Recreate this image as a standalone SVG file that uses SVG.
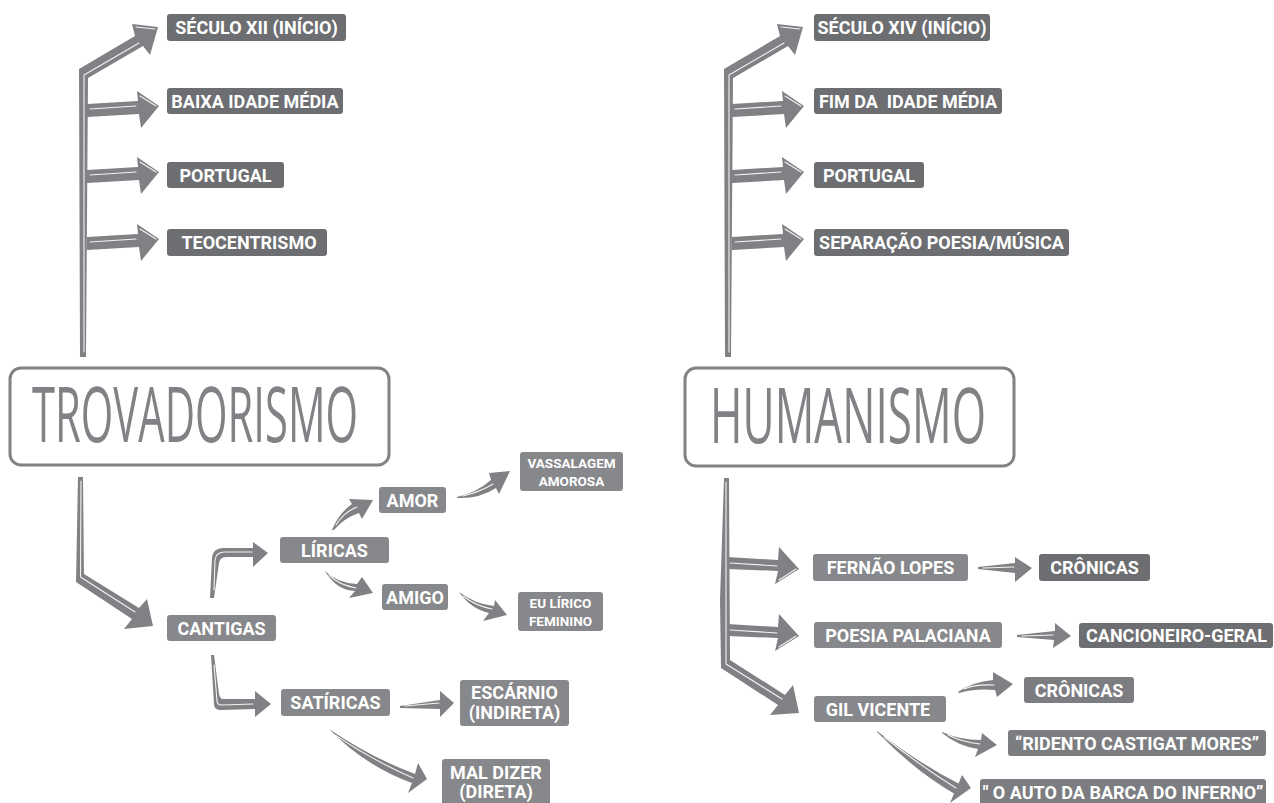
<svg xmlns="http://www.w3.org/2000/svg" xmlns:xlink="http://www.w3.org/1999/xlink" width="1274" height="803" viewBox="0 0 1274 803">
<style>
.dk{fill:#6d6e71}
.md{fill:#7c7d80}
.lt{fill:#87888b}
.t{font-family:Roboto,"Liberation Sans",sans-serif;font-weight:700;font-size:18px;fill:#fff;text-anchor:middle}
.ts{font-size:13.5px}
.arr{fill:#808184}
.hl{fill:none;stroke:#fff;stroke-width:1.1;stroke-linecap:round;stroke-linejoin:round;opacity:.9}
.frame{fill:#fff;stroke:#808285;stroke-width:3}
.title{font-family:"Open Sans","DejaVu Sans",sans-serif;font-weight:400;fill:#808285}
</style>
<defs>
<g id="br">
<path class="arr" d="M0,-7 L51,-10 L50,-20 L72,-5 L54,17 L52,3 L0,6 Z"/>
<path class="hl" d="M3,-2 L49,-5 M53,-15 L69,-5"/>
</g>
<g id="brd">
<path class="arr" d="M0,-6 L51,-3 L52,-16 L72,6 L48,21 L51,8 L0,6 Z"/>
<path class="hl" d="M3,0 L50,3 M52,17 L69,6"/>
</g>
<g id="topArr">
<path class="arr" d="M80,357 L79,69 L135,36 L132,24 L158,27 L150,55 L143,46 L88,78 L86,357 Z"/>
<path class="hl" d="M84,352 L84,75 L139,43 M136,27 L155,29"/>
<use xlink:href="#br" href="#br" transform="translate(87,111)"/>
<use xlink:href="#br" href="#br" transform="translate(87,177)"/>
<use xlink:href="#br" href="#br" transform="translate(87,244)"/>
</g>
</defs>

<g id="connectors">
<use xlink:href="#topArr" href="#topArr"/>
<use xlink:href="#topArr" href="#topArr" transform="translate(645,0)"/>
<path class="arr" d="M78,477 L83,477 L84,574 L139,608 L147,599 L153,626 L124,629 L132,619 L76,582 Z"/>
<path class="hl" d="M81,481 L80.5,577 L135,612"/>
<path class="arr" d="M210,598 L212,558 Q213,548 223,548 L253,548 L253,542 L268,553 L253,567 L253,557 L226,557 Q220,557 219,563 L214,598 Z"/>
<path class="hl" d="M214,590 L215,560 Q216,552 225,552 L252,552"/>
<path class="arr" d="M211,655 L214,704 Q214,710 221,710 L255,709 L255,717 L271,704 L255,691 L255,699 L223,699 Q220,699 219,694 L214,655 Z"/>
<path class="hl" d="M214,665 L217,701 Q217,705 222,705 L253,704"/>
<path class="arr" d="M332,530 Q339,513 352,504 L349,499 L373,500 L362,519 L359,513 Q344,518 334,530 Z"/>
<path class="hl" d="M336,525 Q344,512 357,507"/>
<path class="arr" d="M325,571 Q337,583 357,584 L362,577 L373,593 L349,598 L355,591 Q336,590 325,571 Z"/>
<path class="hl" d="M329,575 Q339,585 356,588"/>
<path class="arr" d="M457,497 Q476,493 491,480 L489,473 L510,471 L499,494 L496,488 Q479,499 457,498 Z"/>
<path class="hl" d="M463,496 Q480,492 493,484"/>
<path class="arr" d="M459,592 Q475,604 494,606 L495,600 L507,615 L483,621 L489,613 Q471,609 459,592 Z"/>
<path class="hl" d="M463,596 Q476,606 492,609"/>
<path class="arr" d="M400,706 L440,700 L440,691 L454,703 L440,717 L440,709 L400,708 Z"/>
<path class="hl" d="M405,706 L439,703"/>
<path class="arr" d="M329,729 Q370,757 415,774 L418,763 L427,779 L408,793 L412,783 Q365,766 329,729 Z"/>
<path class="hl" d="M335,735 Q372,760 413,778"/>
<path class="arr" d="M724,478 L729,478 L730,660 L785,695 L793,685 L799,713 L770,715 L778,705 L721,668 L720,600 Z"/>
<path class="hl" d="M726,482 L726,664 L782,699"/>
<use xlink:href="#brd" href="#brd" transform="translate(727,563)"/>
<use xlink:href="#brd" href="#brd" transform="translate(727,630)"/>
<path class="arr" d="M978,567 L1015,563 L1015,557 L1032,568 L1015,582 L1015,573 L978,569 Z"/>
<path class="hl" d="M983,568 L1014,567"/>
<path class="arr" d="M1017,635 L1055,631 L1055,623 L1071,636 L1053,648 L1054,640 L1017,637 Z"/>
<path class="hl" d="M1022,636 L1053,635"/>
<path class="arr" d="M958,692 Q972,682 993,680 L993,672 L1013,684 L997,697 L995,690 Q975,688 959,693 Z"/>
<path class="hl" d="M964,689 Q975,684 994,685"/>
<path class="arr" d="M942,732 Q960,740 981,740 L982,733 L997,745 L975,757 L978,749 Q958,746 942,733 Z"/>
<path class="hl" d="M948,735 Q962,742 980,744"/>
<path class="arr" d="M877,731 Q920,764 958.5,783.5 L962,775 L971,788 L950,803 L954,793.5 Q915,771 877,732 Z"/>
<path class="hl" d="M884,737 Q922,767 956,788"/>
</g>

<g id="trovadorismo">
<rect class="frame" x="10" y="368" width="379" height="97" rx="11"/>
<text class="title" x="32" y="442" font-size="76" textLength="326" lengthAdjust="spacingAndGlyphs">TROVADORISMO</text>
</g>
<g id="humanismo">
<rect class="frame" x="685" y="368" width="329" height="98" rx="11"/>
<text class="title" x="710" y="443" font-size="76" textLength="276" lengthAdjust="spacingAndGlyphs">HUMANISMO</text>
</g>

<g id="seculo12"><rect class="dk" x="167" y="14" width="179" height="27" rx="3"/><text class="t" x="256.5" y="33.5">SÉCULO XII (INÍCIO)</text></g>
<g id="baixa"><rect class="dk" x="167" y="88" width="176" height="26" rx="3"/><text class="t" x="255" y="107.5">BAIXA IDADE MÉDIA</text></g>
<g id="portugal1"><rect class="dk" x="167" y="162" width="117" height="26" rx="3"/><text class="t" x="225.5" y="181.5">PORTUGAL</text></g>
<g id="teocentrismo"><rect class="dk" x="167" y="229" width="160" height="27" rx="3"/><text class="t" x="249" y="248.5">TEOCENTRISMO</text></g>

<g id="seculo14"><rect class="dk" x="814" y="14" width="176" height="27" rx="3"/><text class="t" x="902" y="33.5">SÉCULO XIV (INÍCIO)</text></g>
<g id="fim"><rect class="dk" x="814" y="88" width="188" height="26" rx="3"/><text class="t" x="908" y="107.5" xml:space="preserve" style="white-space:pre">FIM DA  IDADE MÉDIA</text></g>
<g id="portugal2"><rect class="dk" x="814" y="162" width="110" height="26" rx="3"/><text class="t" x="869" y="181.5">PORTUGAL</text></g>
<g id="separacao"><rect class="dk" x="814" y="229" width="255" height="27" rx="3"/><text class="t" x="941.5" y="248.5">SEPARAÇÃO POESIA/MÚSICA</text></g>

<g id="cantigas"><rect class="lt" x="167" y="615" width="109" height="26" rx="3"/><text class="t" x="221.5" y="634.5">CANTIGAS</text></g>
<g id="liricas"><rect class="lt" x="280" y="537" width="109" height="26" rx="3"/><text class="t" x="334.5" y="556.5">LÍRICAS</text></g>
<g id="amor"><rect class="lt" x="379" y="487" width="67" height="26" rx="3"/><text class="t" x="412.5" y="506.5">AMOR</text></g>
<g id="amigo"><rect class="lt" x="382" y="584" width="66" height="26" rx="3"/><text class="t" x="415" y="603.5">AMIGO</text></g>
<g id="vassalagem"><rect class="lt" x="520" y="452" width="103" height="39" rx="3"/><text class="t ts"><tspan x="571.5" y="468">VASSALAGEM</tspan><tspan x="571.5" y="486">AMOROSA</tspan></text></g>
<g id="eulirico"><rect class="lt" x="518" y="592" width="85" height="39" rx="3"/><text class="t ts"><tspan x="560.5" y="607.5">EU LÍRICO</tspan><tspan x="560.5" y="625.5">FEMININO</tspan></text></g>
<g id="satiricas"><rect class="lt" x="281" y="689" width="109" height="27" rx="3"/><text class="t" x="335.5" y="708.5">SATÍRICAS</text></g>
<g id="escarnio"><rect class="lt" x="460" y="680" width="109" height="46" rx="3"/><text class="t"><tspan x="514.5" y="699">ESCÁRNIO</tspan><tspan x="514.5" y="718.5">(INDIRETA)</tspan></text></g>
<g id="maldizer"><rect class="lt" x="442" y="759" width="108" height="50" rx="3"/><text class="t"><tspan x="496" y="779">MAL DIZER</tspan><tspan x="496" y="798">(DIRETA)</tspan></text></g>

<g id="fernao"><rect class="lt" x="813" y="554" width="155" height="27" rx="3"/><text class="t" x="890.5" y="573.5">FERNÃO LOPES</text></g>
<g id="cronicas1"><rect class="dk" x="1039" y="554" width="111" height="27" rx="3"/><text class="t" x="1094.5" y="573.5">CRÔNICAS</text></g>
<g id="poesia"><rect class="lt" x="814" y="622" width="188" height="26" rx="3"/><text class="t" x="908" y="641.5">POESIA PALACIANA</text></g>
<g id="cancioneiro"><rect class="dk" x="1079" y="623" width="194" height="25" rx="3"/><text class="t" x="1176.5" y="642">CANCIONEIRO-GERAL</text></g>
<g id="gilvicente"><rect class="lt" x="814" y="696" width="132" height="26" rx="3"/><text class="t" x="878" y="715.5">GIL VICENTE</text></g>
<g id="cronicas2"><rect class="md" x="1024" y="677" width="110" height="26" rx="3"/><text class="t" x="1079" y="696.5">CRÔNICAS</text></g>
<g id="ridento"><rect class="md" x="1008" y="730" width="258" height="26" rx="3"/><text class="t" x="1137" y="749.5">“RIDENTO CASTIGAT MORES”</text></g>
<g id="auto"><rect class="md" x="980" y="779" width="286" height="30" rx="3"/><text class="t" x="1123" y="798.5">" O AUTO DA BARCA DO INFERNO”</text></g>
</svg>
